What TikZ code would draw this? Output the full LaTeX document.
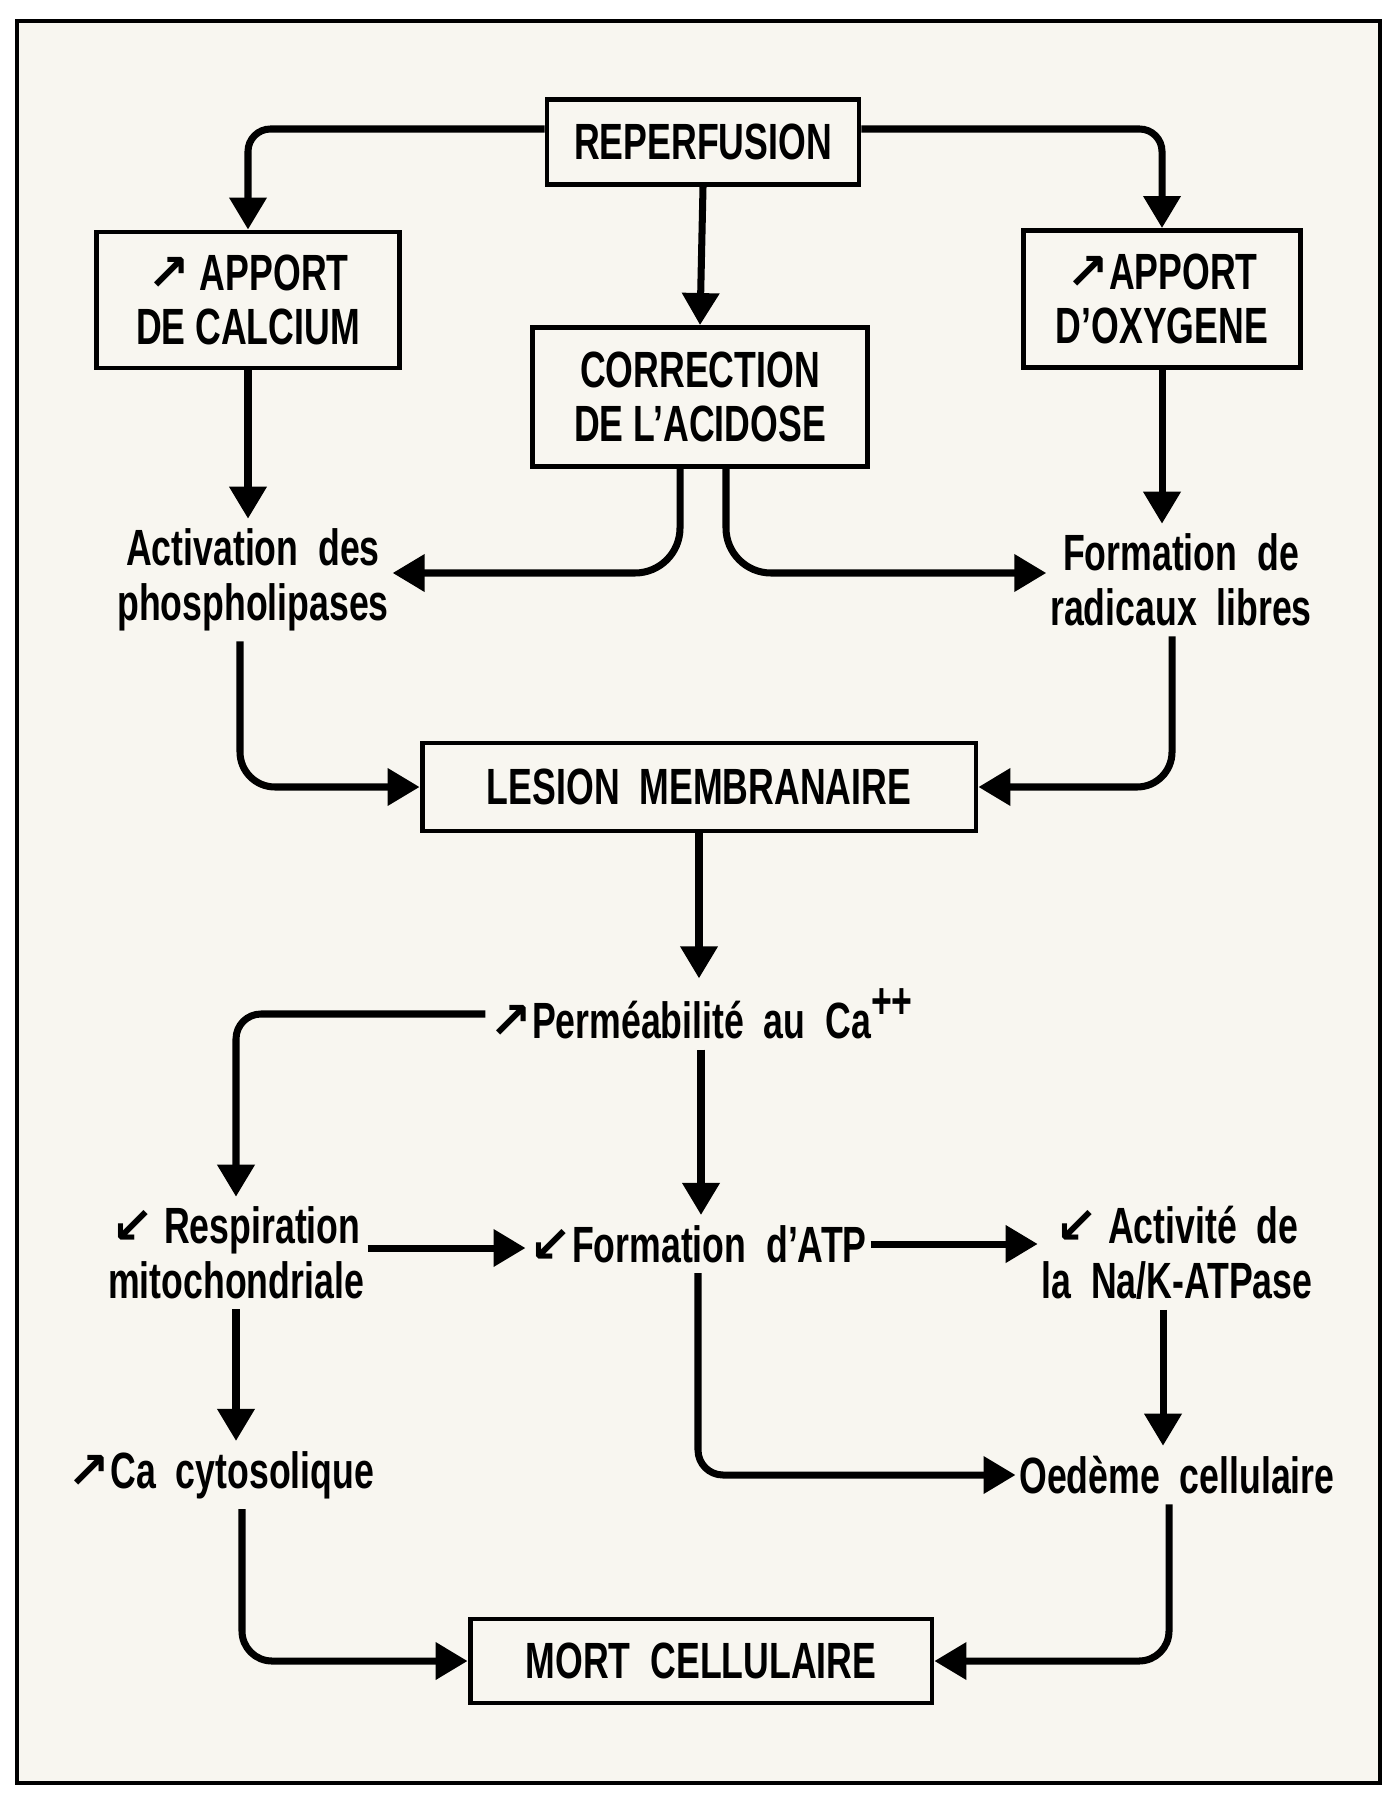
\documentclass[tikz,border=0pt]{standalone}
\usepackage{fontspec}
\setmainfont[FakeStretch=0.7]{Liberation Sans}
\newfontfamily\symfont{DejaVu Sans}
\usepackage{xcolor}
\usetikzlibrary{arrows.meta, positioning, calc}
\definecolor{paper}{RGB}{248,246,240}
\newcommand{\upar}{{\symfont\bfseries ↗}}
\newcommand{\downar}{{\symfont\bfseries ↙}}
\newcommand{\plusplus}{\raisebox{0.75ex}{\fontsize{29}{29}\selectfont\bfseries ++}}

\begin{document}
\begin{tikzpicture}[
    x=0.02cm, y=-0.02cm,
    font=\fontsize{29}{31}\selectfont\bfseries,
    box/.style={draw, line width=2.8pt, fill=paper, align=center, inner sep=2pt},
    txt/.style={align=center, inner xsep=2pt, inner ysep=0.2cm},
    flow/.style={line width=4pt, rounded corners=0.6cm, -{Triangle[length=0.64cm, width=0.72cm]}}
]
    % Frame
    \useasboundingbox (0,0) rectangle (1397,1807);
    \draw[line width=2.3pt, fill=paper] (17,21) rectangle (1380,1783);

    % Boxes
    \node[box, minimum width=6.24cm, minimum height=1.7cm] (rep) at (703,142) {REPERFUSION};
    \node[box, minimum width=6.06cm, minimum height=2.72cm] (calc) at (248,300) {\upar\ APPORT\\DE CALCIUM};
    \node[box, minimum width=5.54cm, minimum height=2.74cm] (oxy) at (1162,299) {\upar APPORT\\D’OXYGENE};
    \node[box, minimum width=6.7cm, minimum height=2.78cm] (corr) at (700,397) {CORRECTION\\DE L’ACIDOSE};
    \node[box, minimum width=11.08cm, minimum height=1.76cm] (lesion) at (699,787) {LESION\ \ MEMBRANAIRE};
    \node[box, minimum width=9.24cm, minimum height=1.68cm] (mort) at (701,1661) {MORT\ \ CELLULAIRE};

    % Texts
    \node[txt] (act) at (253,580) {Activation\ \ des\\phospholipases};
    \node[txt] (rad) at (1181,580) {Formation\ \ de\\radicaux\ \ libres};
    \node[txt] (perm) at (701,1014) {\upar Perméabilité\ \ au\ \ Ca\plusplus};
    \node[txt] (resp) at (236,1253) {\downar\ Respiration\\mitochondriale};
    \node[txt] (atp) at (698,1244) {\downar Formation\ \ d’ATP};
    \node[txt] (activ) at (1177,1253) {\downar\ Activité\ \ de\\la\ \ Na/K-ATPase};
    \node[txt] (cyto) at (221,1475) {\upar Ca\ \ cytosolique};
    \node[txt] (oed) at (1177,1475) {Oedème\ \ cellulaire};

    % Top arrows
    \draw[flow, rounded corners=0.45cm] ([yshift=0.26cm]rep.west) -| (calc.north);
    \draw[flow, rounded corners=0.45cm] ([yshift=0.26cm]rep.east) -| (oxy.north);
    \draw[flow] (rep.south) -- (corr.north);
    \draw[flow] (calc.south) -- (calc.south |- act.north);
    \draw[flow] (oxy.south) -- (oxy.south |- rad.north);
    \draw[flow, rounded corners=0.9cm] ([xshift=-0.4cm]corr.south) |- ([yshift=0.14cm]act.east);
    \draw[flow, rounded corners=0.9cm] ([xshift=0.52cm]corr.south) |- ([yshift=0.14cm]rad.west);
    \draw[flow, rounded corners=0.7cm] ([xshift=-0.26cm]act.south) |- (lesion.west);
    \draw[flow, rounded corners=0.7cm] ([xshift=-0.18cm]rad.south) |- (lesion.east);

    % Lower arrows
    \draw[flow] (lesion.south) -- (lesion.south |- perm.north);
    \draw[flow, rounded corners=0.5cm] (perm.west) -| (resp.north);
    \draw[flow] (perm.south) -- (perm.south |- atp.north);
    \draw[flow] ([yshift=0.1cm]resp.east) -- ([yshift=0.1cm]resp.east -| atp.west);
    \draw[flow] (atp.east) -- (atp.east -| activ.west);
    \draw[flow, rounded corners=0.5cm] (atp.south) |- (oed.west);
    \draw[flow] (resp.south) -- (resp.south |- cyto.north);
    \draw[flow] ([xshift=-0.28cm]activ.south) -- ([xshift=-0.28cm]activ.south |- oed.north);
    \draw[flow] ([xshift=0.42cm]cyto.south) |- (mort.west);
    \draw[flow] ([xshift=-0.16cm]oed.south) |- (mort.east);
\end{tikzpicture}
\end{document}
